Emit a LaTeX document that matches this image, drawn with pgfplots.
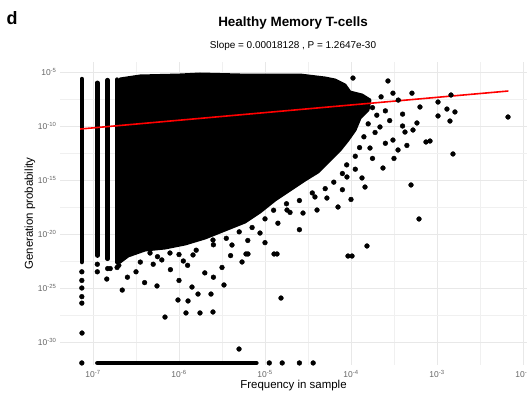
\documentclass[border=0pt]{standalone}
\usepackage{pgfplots}
\pgfplotsset{compat=1.18}
\usepackage{fontspec}
\setmainfont{Liberation Sans}
\begin{document}
\begin{tikzpicture}[x=1bp,y=1bp]
\begin{axis}[
  at={(0,0)}, anchor=south west, scale only axis,
  width=467bp, height=303bp,
  xmin=-7.384, xmax=-1.953, ymin=-32.13, ymax=-4.074,
  axis line style={draw=none}, tick style={draw=none},
  xtick={-7,-6,-5,-4,-3,-2},
  xticklabels={10\textsuperscript{-7},10\textsuperscript{-6},10\textsuperscript{-5},10\textsuperscript{-4},10\textsuperscript{-3},10\textsuperscript{-2}},
  ytick={-5,-10,-15,-20,-25,-30},
  yticklabels={10\textsuperscript{-5},10\textsuperscript{-10},10\textsuperscript{-15},10\textsuperscript{-20},10\textsuperscript{-25},10\textsuperscript{-30}},
  minor xtick={-6.5,-5.5,-4.5,-3.5,-2.5},
  minor ytick={-7.5,-12.5,-17.5,-22.5,-27.5},
  grid=both,
  major grid style={draw=black!9, line width=0.8bp},
  minor grid style={draw=black!6, line width=0.5bp},
  ticklabel style={font=\fontsize{8.5}{9}\selectfont, text=black!60},
  xticklabel style={yshift=-2bp},
  xlabel={Frequency in sample}, ylabel={Generation probability},
  label style={font=\fontsize{11.5}{13}\selectfont},
  xlabel style={yshift=4bp}, ylabel style={yshift=-4bp},
  clip=false,
]
% dense cloud
\addplot[fill=black, draw=black, line width=3bp, line join=round] coordinates {
(-6.686,-5.648)(-6.453,-5.370)(-5.988,-5.278)(-5.756,-5.185)(-5.291,-5.278)(-4.884,-5.278)(-4.593,-5.278)(-4.302,-5.556)(-4.186,-5.741)(-4.070,-6.204)(-4.012,-6.852)(-3.872,-7.130)(-3.779,-7.593)(-3.802,-8.519)(-3.895,-9.259)(-3.953,-10.370)(-4.035,-11.296)(-4.128,-12.222)(-4.244,-13.148)(-4.384,-14.259)(-4.535,-15.0)(-4.709,-15.926)(-4.884,-16.852)(-5.058,-17.963)(-5.233,-18.889)(-5.465,-19.630)(-5.698,-20.370)(-5.930,-20.926)(-6.163,-21.296)(-6.395,-21.481)(-6.593,-22.037)(-6.686,-22.593)} -- cycle;
% discrete columns
\addplot[black, line width=4.5bp, line cap=round] coordinates {(-7.13,-5.65)(-7.13,-22.6)};
\addplot[black, line width=4.5bp, line cap=round] coordinates {(-6.95,-6.0)(-6.95,-22.0)};
\addplot[black, line width=4.5bp, line cap=round] coordinates {(-6.83,-5.75)(-6.83,-22.3)};
\addplot[black, line width=4.5bp, line cap=round] coordinates {(-6.72,-5.70)(-6.72,-22.6)};
\addplot[black, line width=4.5bp, line cap=round] coordinates {(-6.95,-31.94)(-5.1,-31.94)};
% scattered points
\addplot[only marks, mark=*, mark size=2.4bp, black] coordinates {
(-2.174,-9.167)(-2.814,-12.59)(-3.209,-18.61)(-3.302,-15.46)(-3.814,-21.11)(-3.988,-22.04)
(-3.128,-11.48)(-3.081,-11.39)(-2.988,-9.07)(-2.849,-9.54)(-2.791,-8.70)(-2.884,-8.43)
(-2.837,-7.13)(-2.988,-7.78)(-3.291,-6.96)(-3.198,-8.24)(-3.570,-5.83)(-3.977,-5.56)
(-3.233,-9.72)(-3.279,-10.37)(-3.372,-10.56)(-3.453,-12.22)(-3.628,-13.89)(-3.872,-14.81)
(-3.837,-15.65)(-4.151,-17.5)(-4.419,-16.57)(-4.558,-18.06)(-4.744,-17.78)(-3.512,-6.96)
(-3.663,-10.09)(-3.512,-11.30)(-3.779,-12.04)(-4.395,-17.78)(-4.86,-21.85)(-5.198,-21.85)
(-5.384,-21.02)(-5.605,-20.56)(-5.837,-21.94)(-6.105,-21.76)(-6.337,-21.76)(-6.535,-21.2)
(-5.058,-19.91)(-4.709,-18.0)(-4.047,-14.72)(-4.28,-16.67)
(-3.75,-8.3)(-3.70,-9.0)(-3.60,-8.6)(-3.55,-9.5)(-3.45,-7.6)(-3.40,-8.9)(-3.65,-7.3)
(-3.80,-9.8)(-3.72,-10.6)(-3.85,-11.0)(-3.60,-11.6)(-3.90,-12.0)(-3.95,-12.8)(-3.75,-13.0)
(-4.05,-13.6)(-4.10,-14.4)(-3.95,-14.0)(-4.20,-15.2)(-4.30,-15.8)(-4.10,-15.9)(-4.45,-16.2)
(-4.60,-16.9)(-4.75,-17.2)(-4.90,-17.8)(-5.00,-18.6)(-5.15,-19.4)(-5.30,-19.8)(-4.85,-19.0)
(-5.45,-20.4)(-5.60,-21.0)(-5.20,-20.6)(-5.80,-21.5)(-6.00,-21.9)(-6.25,-22.1)(-5.95,-22.5)
(-3.40,-10.0)(-3.35,-11.8)(-3.50,-13.0)(-4.00,-16.8)(-4.60,-19.6)(-5.00,-20.8)(-5.40,-22.0)
(-7.128,-29.17)(-7.13,-23.5)(-7.13,-24.3)(-7.13,-25.0)(-7.13,-25.8)(-7.13,-26.4)
(-6.95,-22.8)(-6.95,-23.5)(-6.83,-23.2)(-6.84,-24.17)(-6.72,-23.1)
(-6.66,-25.19)(-6.256,-24.81)(-6.163,-27.69)(-6.012,-26.11)(-5.919,-27.31)(-5.895,-26.2)
(-5.849,-24.91)(-5.779,-25.56)(-5.756,-27.31)(-5.628,-25.56)(-5.605,-27.22)(-5.477,-24.72)
(-5.302,-30.65)(-4.814,-25.93)(-5.267,-22.59)(-5.221,-21.85)(-4.895,-21.85)(-4.035,-22.04)
(-6.8,-23.2)(-6.7,-22.9)(-6.5,-23.5)(-6.3,-22.8)(-6.1,-23.3)(-5.9,-22.9)(-5.7,-23.6)
(-5.5,-23.1)(-6.6,-24.0)(-6.0,-24.3)(-5.6,-24.0)(-6.4,-24.5)(-6.45,-22.6)(-6.2,-22.4)
(-7.13,-31.94)(-4.95,-31.94)(-4.8,-31.94)(-4.6,-31.94)(-4.44,-31.94)
};
% regression line
\addplot[red, line width=1.6bp] coordinates {(-7.15,-10.28)(-2.17,-6.76)};
\end{axis}
\node[font=\bfseries\fontsize{13.5}{15}\selectfont] at (233,342) {Healthy Memory T-cells};
\node[font=\fontsize{10}{12}\selectfont] at (233,319) {Slope = 0.00018128 , P = 1.2647e-30};
\node[font=\bfseries\fontsize{18}{20}\selectfont] at (-48,347) {d};
\pgfresetboundingbox
\path (-60,-38) rectangle (467,365);
\end{tikzpicture}
\end{document}
